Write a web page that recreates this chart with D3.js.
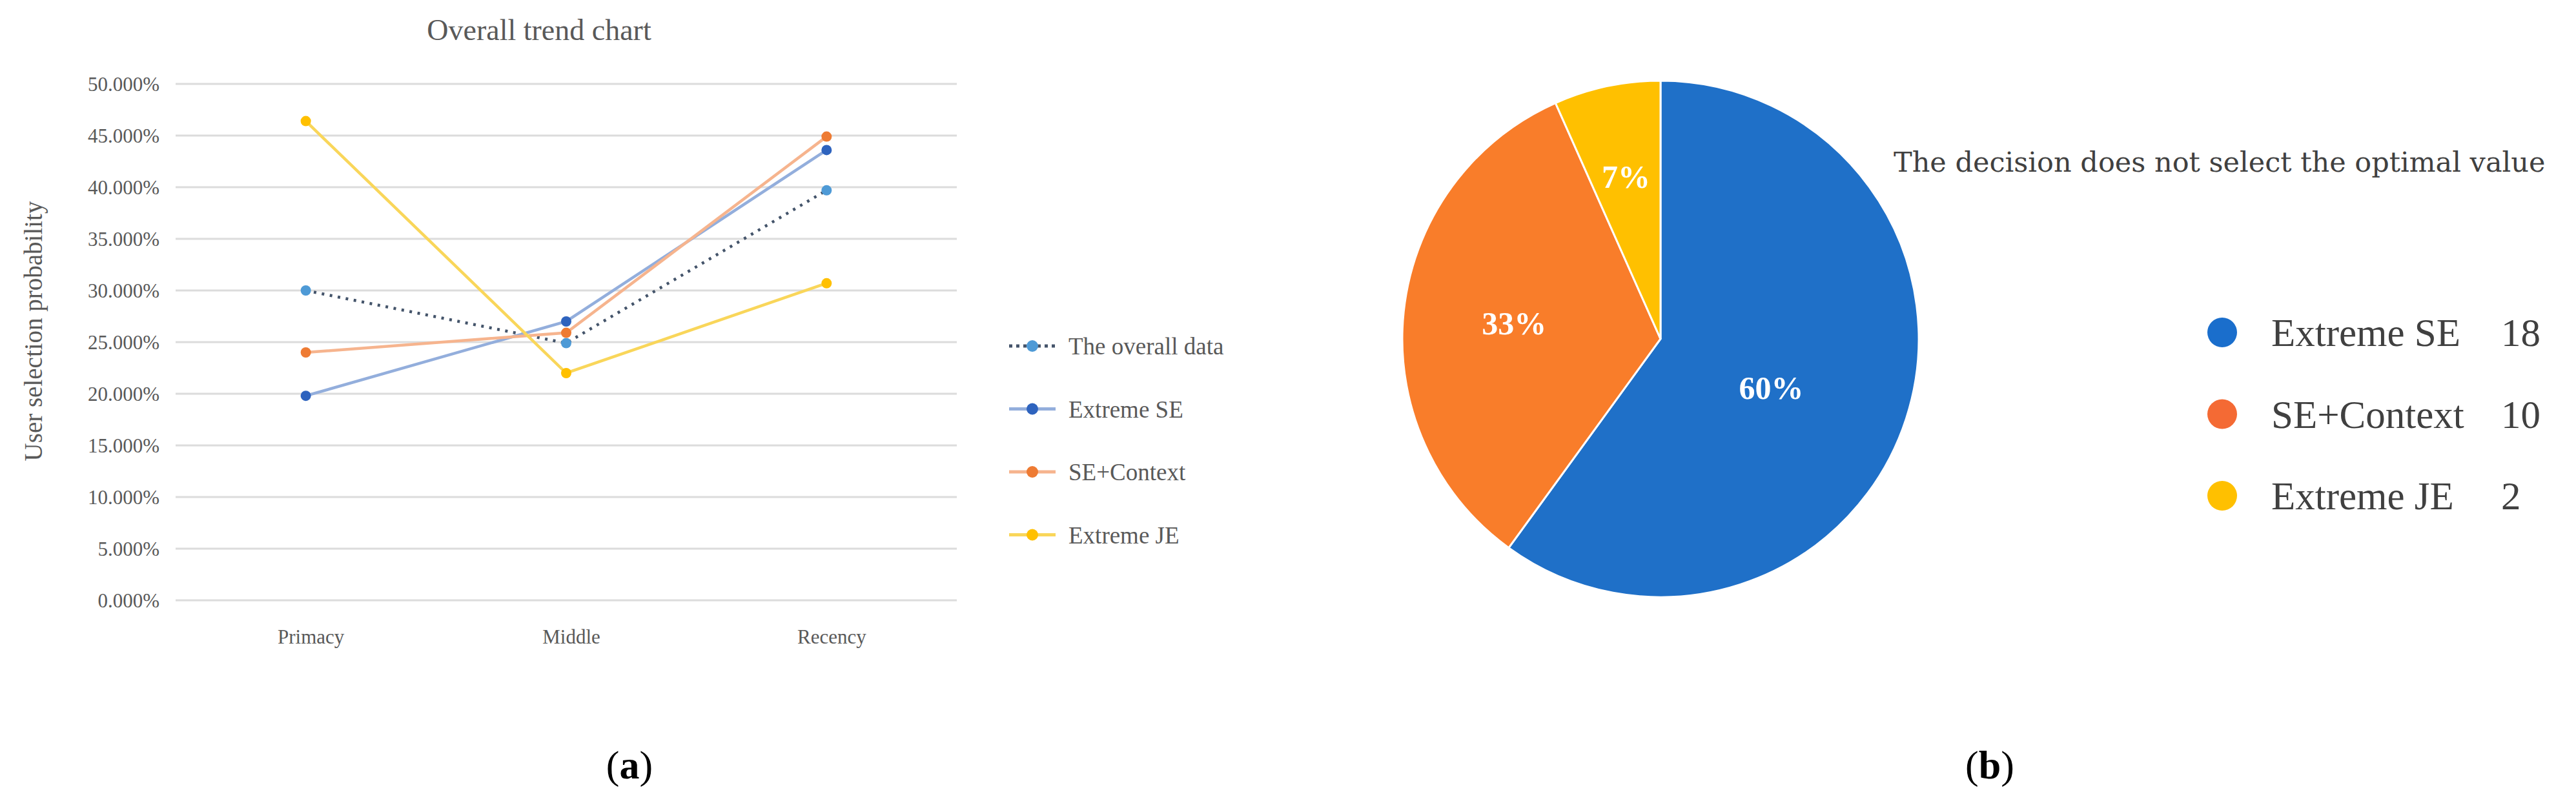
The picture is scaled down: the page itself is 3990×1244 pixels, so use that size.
<html>
<head>
<title>Overall trend chart</title>
<style>
body { margin:0; background:#fff; }
text { font-family:'Liberation Serif', 'DejaVu Serif', serif; }
.tick { fill:#595959; font-size:31px; }
.legText { fill:#595959; font-size:37px; }
.pieTitle { font-family:'DejaVu Serif', serif; font-size:43px; fill:#404040; }
</style>
<script src="https://cdnjs.cloudflare.com/ajax/libs/d3/7.8.5/d3.min.js"></script>
</head>
<body>
<svg id='chart' width='3990' height='1244'></svg>
<script>

// line chart (a)
var categories = ['Primacy', 'Middle', 'Recency'];
var seriesNames = ['The overall data', 'Extreme SE', 'SE+Context', 'Extreme JE'];
var overallData = [0.300, 0.249, 0.397];
var extremeSE = [0.198, 0.270, 0.436];
var seContext = [0.240, 0.259, 0.449];
var extremeJE = [0.464, 0.220, 0.307];
var yTicks = [0, 0.05, 0.10, 0.15, 0.20, 0.25, 0.30, 0.35, 0.40, 0.45, 0.50];

// pie chart (b)
var pieNames = ['Extreme SE', 'SE+Context', 'Extreme JE'];
var pieCounts = [18, 10, 2];

var svg = d3.select('#chart');
svg.append('rect').attr('width', 3990).attr('height', 1244).attr('fill', '#fff');

var x = d3.scaleBand().domain(categories).range([272, 1482]);
var y = d3.scaleLinear().domain([0, 0.5]).range([930, 130]);
var fmt = d3.format('.3%');

var series = [
	{ name: seriesNames[0], values: overallData, line: '#44546A', marker: '#4E9AD6', dash: '4 8.6', width: 4.5 },
	{ name: seriesNames[1], values: extremeSE, line: '#93AEDC', marker: '#2E63BE', dash: null, width: 4.5 },
	{ name: seriesNames[2], values: seContext, line: '#F6B48E', marker: '#EE7B33', dash: null, width: 4.5 },
	{ name: seriesNames[3], values: extremeJE, line: '#F9D65A', marker: '#FFC000', dash: null, width: 4.5 }
];

function cx(c) { return x(c) + x.bandwidth() / 2; }

svg.append('text')
	.text('Overall trend chart')
	.attr('x', 835).attr('y', 62)
	.attr('text-anchor', 'middle')
	.attr('font-size', 46)
	.attr('fill', '#595959');

svg.append('text')
	.text('User selection probability')
	.attr('transform', 'translate(65,513) rotate(-90)')
	.attr('text-anchor', 'middle')
	.attr('font-size', 39)
	.attr('fill', '#595959');

// gridlines + y labels
svg.selectAll('.grid')
	.data(yTicks)
	.enter()
	.append('line')
	.attr('x1', 272).attr('x2', 1482)
	.attr('y1', function(d) { return y(d); })
	.attr('y2', function(d) { return y(d); })
	.attr('stroke', '#DCDCDC')
	.attr('stroke-width', 3);

svg.selectAll('.ylab')
	.data(yTicks)
	.enter()
	.append('text')
	.attr('class', 'tick')
	.text(function(d) { return fmt(d); })
	.attr('x', 247)
	.attr('y', function(d) { return y(d) + 11; })
	.attr('text-anchor', 'end');

svg.selectAll('.xlab')
	.data(categories)
	.enter()
	.append('text')
	.attr('class', 'tick')
	.text(function(d) { return d; })
	.attr('x', function(d) { return cx(d) + 8; })
	.attr('y', 997)
	.attr('text-anchor', 'middle');

var line = d3.line()
	.x(function(d, i) { return cx(categories[i]); })
	.y(function(d) { return y(d); });

series.forEach(function(s) {
	svg.append('path')
		.attr('d', line(s.values))
		.attr('fill', 'none')
		.attr('stroke', s.line)
		.attr('stroke-width', s.width)
		.attr('stroke-dasharray', s.dash);
	svg.selectAll(null)
		.data(s.values)
		.enter()
		.append('circle')
		.attr('cx', function(d, i) { return cx(categories[i]); })
		.attr('cy', function(d) { return y(d); })
		.attr('r', 8)
		.attr('fill', s.marker);
});

// legend (a)
var leg = svg.selectAll('.leg')
	.data(series)
	.enter()
	.append('g')
	.attr('transform', function(d, i) { return 'translate(1563,' + (536 + i * 97.5) + ')'; });

leg.append('line')
	.attr('x1', 0).attr('x2', 72)
	.attr('stroke', function(d) { return d.line; })
	.attr('stroke-width', 5)
	.attr('stroke-dasharray', function(d) { return d.dash ? '5 6' : null; });

leg.append('circle')
	.attr('cx', 36).attr('r', 9)
	.attr('fill', function(d) { return d.marker; });

leg.append('text')
	.attr('class', 'legText')
	.text(function(d) { return d.name; })
	.attr('x', 92).attr('y', 13);

// pie (b)
var pcx = 2572, pcy = 525, R = 400;
var pieColors = ['#1F70C8', '#F97D2A', '#FFC000'];
var legColors = ['#1A6ECC', '#F46A34', '#FFC000'];
var total = d3.sum(pieCounts);

var pie = d3.pie().sort(null)(pieCounts);
var arc = d3.arc().innerRadius(0).outerRadius(R);

// small slices get their label pushed further out, like the office chart did
function labelPos(d) {
	var r = R * (0.66 - 0.27 * d.value / total);
	return d3.arc().innerRadius(r).outerRadius(r).centroid(d);
}

var pg = svg.append('g').attr('transform', 'translate(' + pcx + ',' + pcy + ')');

pg.selectAll('.slice')
	.data(pie)
	.enter()
	.append('path')
	.attr('d', arc)
	.attr('fill', function(d, i) { return pieColors[i]; })
	.attr('stroke', '#fff')
	.attr('stroke-width', 3);

pg.selectAll('.plab')
	.data(pie)
	.enter()
	.append('text')
	.text(function(d) { return Math.round(d.value / total * 100) + '%'; })
	.attr('x', function(d) { return labelPos(d)[0] - (d.index == 0 ? 18 : 0); })
	.attr('y', function(d) { return labelPos(d)[1] + 17 + (d.index == 0 ? 14 : 0); })
	.attr('text-anchor', 'middle')
	.attr('font-size', 50)
	.attr('font-weight', 'bold')
	.attr('fill', '#fff');

svg.append('text')
	.attr('class', 'pieTitle')
	.text('The decision does not select the optimal value')
	.attr('x', 2933).attr('y', 266);

var pleg = svg.selectAll('.pleg')
	.data(pieNames)
	.enter()
	.append('g')
	.attr('transform', function(d, i) { return 'translate(3442,' + (515 + i * 126.5) + ')'; });

pleg.append('circle')
	.attr('r', 23)
	.attr('fill', function(d, i) { return legColors[i]; });

pleg.append('text')
	.text(function(d) { return d; })
	.attr('x', 76).attr('y', 21)
	.attr('font-size', 61)
	.attr('fill', '#404040');

pleg.append('text')
	.text(function(d, i) { return pieCounts[i]; })
	.attr('x', 432).attr('y', 21)
	.attr('font-size', 61)
	.attr('fill', '#404040');

// captions
var caps = [['a', 975], ['b', 3082]];
caps.forEach(function(c) {
	var t = svg.append('text')
		.attr('x', c[1]).attr('y', 1206)
		.attr('text-anchor', 'middle')
		.attr('font-size', 62)
		.attr('fill', '#000');
	t.append('tspan').text('(');
	t.append('tspan').text(c[0]).attr('font-weight', 'bold');
	t.append('tspan').text(')');
});

</script>
</body>
</html>
